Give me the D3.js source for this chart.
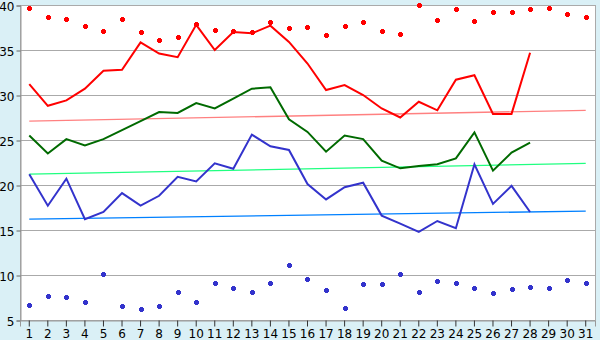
<!DOCTYPE html>
<html>
<head>
<meta charset="utf-8">
<script src="https://cdn.jsdelivr.net/npm/d3@7"></script>
<style>
  html, body { margin: 0; padding: 0; background: #daf0f6; }
  svg { display: block; }
  .tick text { font-family: "DejaVu Sans", sans-serif; font-size: 12px; fill: #000; }
</style>
</head>
<body>
<svg id="chart" width="600" height="340"></svg>
<script>
// days of the month
const days = d3.range(1, 32);

// daily max / mean / min (days 1-28)
const maxTemp = [31.2, 28.8, 29.4, 30.7, 32.7, 32.8, 35.85, 34.6, 34.2, 37.8,
  35.0, 37.0, 36.85, 37.7, 35.9, 33.5, 30.55, 31.1, 30.0, 28.5,
  27.5, 29.25, 28.3, 31.7, 32.2, 27.9, 27.9, 34.7];
const meanTemp = [25.5, 23.5, 25.1, 24.4, 25.1, 26.1, 27.1, 28.1, 28.0, 29.1,
  28.5, 29.6, 30.7, 30.85, 27.3, 25.9, 23.7, 25.5, 25.1, 22.7,
  21.85, 22.1, 22.3, 22.96, 25.85, 21.6, 23.6, 24.7];
const minTemp = [21.2, 17.7, 20.7, 16.2, 17.0, 19.1, 17.7, 18.8, 20.9, 20.4,
  22.4, 21.8, 25.6, 24.3, 23.9, 20.1, 18.4, 19.75, 20.25, 16.6,
  15.7, 14.8, 16.0, 15.2, 22.3, 17.9, 19.9, 17.0];

// record high / record low (days 1-31)
const recordHigh = [39.5, 38.6, 38.3, 37.6, 37.0, 38.3, 36.85, 36.0, 36.3, 37.8,
  37.1, 37.0, 36.9, 38.0, 37.3, 37.4, 36.5, 37.6, 38.0, 37.0,
  36.7, 39.85, 38.2, 39.4, 38.1, 39.1, 39.1, 39.4, 39.5, 38.85, 38.5];
const recordLow = [6.6, 7.6, 7.5, 6.85, 10.0, 6.4, 6.1, 6.4, 8.0, 6.85,
  9.0, 8.4, 8.0, 9.0, 11.0, 9.4, 8.2, 6.2, 8.85, 8.85,
  10.0, 8.0, 9.2, 9.0, 8.4, 7.85, 8.3, 8.6, 8.5, 9.3, 9.0];

// normals trend lines (day 1 -> day 31)
const normalMax = [27.1, 28.3];
const normalMean = [21.2, 22.4];
const normalMin = [16.2, 17.1];

const yTicks = [5, 10, 15, 20, 25, 30, 35, 40];

const svg = d3.select("#chart");
const plotLeft = 20, plotRight = 595, plotTop = 5, plotBottom = 320;

const x = d3.scaleBand().domain(days).range([plotLeft, plotRight]);
const cx = d => x(d) + x.bandwidth() / 2;
const y = d3.scaleLinear().domain([5, 40]).range([plotBottom, plotTop]);

// plot background
svg.append("rect")
  .attr("x", plotLeft + 0.5).attr("y", plotTop + 0.5)
  .attr("width", plotRight - plotLeft).attr("height", plotBottom - plotTop)
  .attr("fill", "#fff")
  .attr("stroke", "#aaa");

// horizontal grid
svg.append("g")
  .selectAll("line")
  .data(yTicks)
  .enter()
  .append("line")
  .attr("x1", plotLeft).attr("x2", plotRight)
  .attr("y1", d => Math.round(y(d)) + 0.5)
  .attr("y2", d => Math.round(y(d)) + 0.5)
  .attr("stroke", "#aaa");

// y axis
const yAxis = svg.append("g")
  .attr("transform", `translate(${plotLeft + 0.5},0.5)`)
  .call(d3.axisLeft(y).tickValues(yTicks).tickSize(4).tickPadding(2));
yAxis.select(".domain").attr("stroke", "#999");
yAxis.selectAll(".tick line").attr("stroke", "#666");
yAxis.selectAll(".tick text").attr("dy", "0.38em");

// x axis
const xAxis = svg.append("g")
  .attr("transform", `translate(0,${plotBottom + 0.5})`)
  .call(d3.axisBottom(x).tickSize(6).tickPadding(3));
xAxis.select(".domain").attr("stroke", "#999");
xAxis.selectAll(".tick line").attr("stroke", "#333");

// trend lines
function trend(vals, color) {
  svg.append("line")
    .attr("x1", cx(1)).attr("x2", cx(31))
    .attr("y1", y(vals[0])).attr("y2", y(vals[1]))
    .attr("stroke", color)
    .attr("stroke-width", 1.3);
}
trend(normalMax, "#ff8080");
trend(normalMean, "#20ff80");
trend(normalMin, "#0080ff");

// daily lines
const line = d3.line().x((d, i) => cx(i + 1)).y(d => y(d));
function series(vals, color) {
  svg.append("path")
    .datum(vals)
    .attr("d", line)
    .attr("fill", "none")
    .attr("stroke", color)
    .attr("stroke-width", 2);
}
series(maxTemp, "#ff0000");
series(meanTemp, "#006a00");
series(minTemp, "#3333cc");

// record markers: small filled plus-diamonds
const marker = "M-1,-3h3v1h1v3h-1v1h-3v-1h-1v-3h1z";
function markers(vals, color) {
  svg.append("g")
    .attr("shape-rendering", "crispEdges")
    .selectAll("path")
    .data(vals)
    .enter()
    .append("path")
    .attr("d", marker)
    .attr("transform", (d, i) => `translate(${Math.round(cx(i + 1))},${Math.round(y(d))})`)
    .attr("fill", color);
}
markers(recordHigh, "#ff0000");
markers(recordLow, "#3333cc");
</script>
</body>
</html>
